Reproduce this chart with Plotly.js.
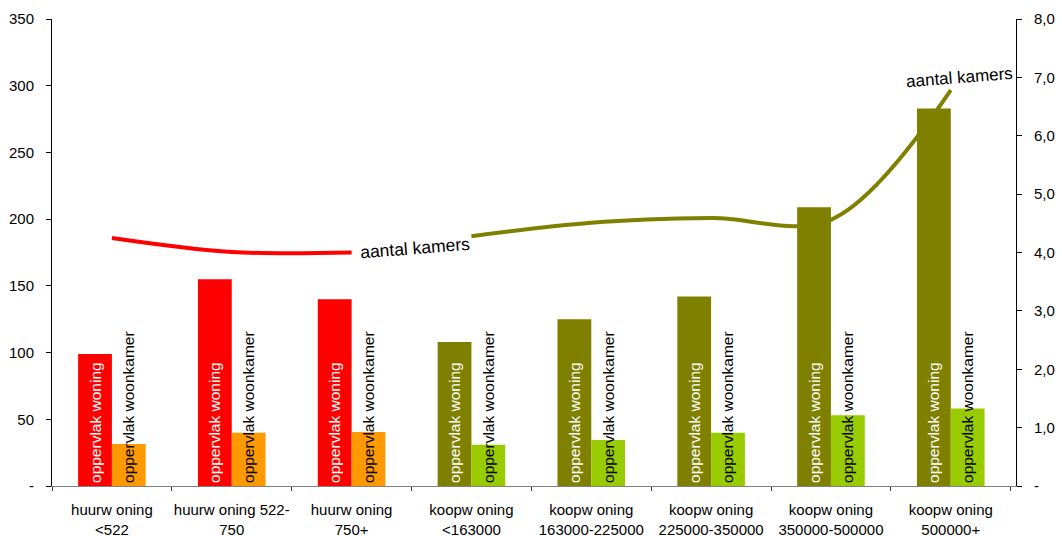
<!DOCTYPE html>
<html>
<head>
<meta charset="utf-8">
<script src="https://cdn.plot.ly/plotly-3.0.1.min.js"></script>
<style>html,body{margin:0;padding:0;background:#fff;}#chart{width:1062px;height:536px;}</style>
</head>
<body>
<div id="chart"></div>
<script>
// ---- data ----
var categories = [
  "huurw oning<br><522",
  "huurw oning 522-<br>750",
  "huurw oning<br>750+",
  "koopw oning<br><163000",
  "koopw oning<br>163000-225000",
  "koopw oning<br>225000-350000",
  "koopw oning<br>350000-500000",
  "koopw oning<br>500000+"
];
var oppervlakWoning = [99, 155, 140, 108, 125, 142, 209, 283];
var oppervlakWoonkamer = [31.5, 40, 40.5, 31, 34.5, 40, 53, 58];
var kamersHuur = [4.25, 4.01, 4.0];
var kamersKoop = [4.28, 4.51, 4.59, 4.56, 6.78];
var leftTickVals = [0, 50, 100, 150, 200, 250, 300, 350];
var leftTickText = ["-", "50", "100", "150", "200", "250", "300", "350"];
var rightTickVals = [0, 1, 2, 3, 4, 5, 6, 7, 8];
var rightTickText = ["-", "1,0", "2,0", "3,0", "4,0", "5,0", "6,0", "7,0", "8,0"];
var woningLabel = "oppervlak woning";
var woonkamerLabel = "oppervlak woonkamer";
var kamersLabel = "aantal kamers";

// colours: first three = huur, rest = koop
var nHuur = kamersHuur.length;
var woningColors = categories.map(function(c, i){ return i < nHuur ? "#FF0000" : "#808000"; });
var woonkamerColors = categories.map(function(c, i){ return i < nHuur ? "#FF9900" : "#99CC00"; });

var FONT = "Liberation Sans, Arial, sans-serif";

var traces = [
  {
    type: "bar", x: categories, y: oppervlakWoning,
    marker: {color: woningColors},
    text: categories.map(function(){ return woningLabel; }),
    textposition: "inside", insidetextanchor: "start", textangle: -90,
    constraintext: "none",
    insidetextfont: {family: FONT, size: 15.5, color: "#FFFFFF"},
    hoverinfo: "y", showlegend: false
  },
  {
    type: "bar", x: categories, y: oppervlakWoonkamer,
    marker: {color: woonkamerColors},
    text: categories.map(function(){ return woonkamerLabel; }),
    textposition: "inside", insidetextanchor: "start", textangle: -90,
    constraintext: "none",
    insidetextfont: {family: FONT, size: 15.5, color: "#000000"},
    hoverinfo: "y", showlegend: false
  },
  {
    type: "scatter", mode: "lines", x: categories.slice(0, nHuur), y: kamersHuur,
    yaxis: "y2", line: {color: "#FF0000", width: 4, shape: "spline", smoothing: 1},
    showlegend: false, cliponaxis: false
  },
  {
    type: "scatter", mode: "lines", x: categories.slice(nHuur), y: kamersKoop,
    yaxis: "y2", line: {color: "#808000", width: 4, shape: "spline", smoothing: 1},
    showlegend: false, cliponaxis: false
  }
];

var layout = {
  width: 1062, height: 536,
  margin: {l: 52, r: 46, t: 19, b: 50},
  paper_bgcolor: "#FFFFFF", plot_bgcolor: "#FFFFFF",
  font: {family: FONT, size: 15, color: "#000000"},
  barmode: "group", bargap: 0.436, bargroupgap: 0,
  showlegend: false,
  xaxis: {
    type: "category", showgrid: false, zeroline: false,
    showline: true, linecolor: "#808080", linewidth: 1,
    ticks: "outside", ticklen: 4, tickcolor: "#404040", tickson: "boundaries",
    ticklabelstandoff: 10,
    tickfont: {family: FONT, size: 15, color: "#000000"},
    tickangle: 0, fixedrange: true
  },
  yaxis: {
    range: [0, 350], showgrid: false, zeroline: false,
    showline: true, linecolor: "#000000", linewidth: 1,
    ticks: "outside", ticklen: 5, tickcolor: "#000000",
    tickvals: leftTickVals, ticktext: leftTickText,
    ticklabelstandoff: 9,
    tickfont: {family: FONT, size: 15, color: "#000000"}
  },
  yaxis2: {
    range: [0, 8], overlaying: "y", side: "right", showgrid: false, zeroline: false,
    showline: true, linecolor: "#000000", linewidth: 1,
    ticks: "outside", ticklen: 5, tickcolor: "#000000",
    tickvals: rightTickVals, ticktext: rightTickText,
    ticklabelstandoff: 9,
    tickfont: {family: FONT, size: 15, color: "#000000"}
  },
  annotations: [
    {
      x: categories[nHuur - 1], y: kamersHuur[nHuur - 1], xref: "x", yref: "y2",
      text: kamersLabel, showarrow: false, xanchor: "left", yanchor: "middle",
      xshift: 6, yshift: 5, textangle: -4.5,
      font: {family: FONT, size: 17.5, color: "#000000"}
    },
    {
      x: categories[categories.length - 1], y: kamersKoop[kamersKoop.length - 1], xref: "x", yref: "y2",
      text: kamersLabel, showarrow: false, xanchor: "center", yanchor: "middle",
      xshift: 9, yshift: 13, textangle: -4.5,
      font: {family: FONT, size: 17, color: "#000000"}
    }
  ]
};

Plotly.newPlot("chart", traces, layout, {displayModeBar: false, staticPlot: true});
</script>
</body>
</html>
